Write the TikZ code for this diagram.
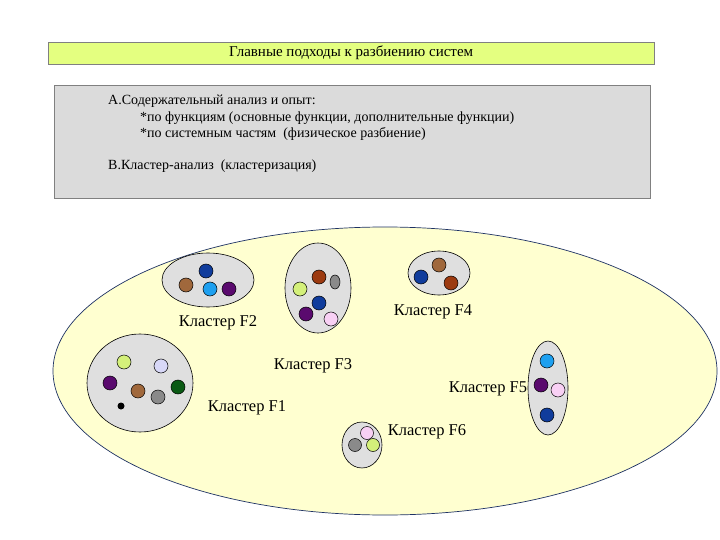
\documentclass[tikz,border=0pt]{standalone}
\usepackage{fontspec}
\setmainfont{Liberation Serif}
\begin{document}
\begin{tikzpicture}[x=1pt,y=-1pt,
  cl/.style={draw=black,fill=gray!25,line width=0.6pt},
  dt/.style={draw=black,line width=0.5pt},
  lbl/.style={font=\fontsize{14}{16}\selectfont,inner sep=0pt},
  clab/.style={font=\fontsize{16.5}{18}\selectfont,inner sep=0pt}]
\definecolor{dbl}{HTML}{103C9C}\definecolor{brn}{HTML}{A0683C}\definecolor{lbl}{HTML}{1EA0F0}
\definecolor{pur}{HTML}{5A0A6E}\definecolor{rbr}{HTML}{9C3A10}\definecolor{gry}{HTML}{8A8A8A}
\definecolor{ygr}{HTML}{D4F07A}\definecolor{pnk}{HTML}{F8D0F4}\definecolor{lav}{HTML}{D8D8F8}
\definecolor{dgr}{HTML}{0A5A14}
\useasboundingbox (0,0) rectangle (720,540);
\fill[white] (0,0) rectangle (720,540);
\node[draw=gray,fill={rgb,255:red,228;green,255;blue,128},minimum width=606pt,minimum height=22pt,anchor=north west,font=\fontsize{15}{17}\selectfont,inner sep=0pt] (title) at (48,42) {Главные подходы к разбиению систем};
\node[draw=gray,fill=gray!28,minimum width=596pt,minimum height=113pt,anchor=north west] (tb) at (54,85) {};
\node[lbl,anchor=west] (t1) at (108,101) {А.Содержательный анализ и опыт:};
\node[lbl,anchor=west] (t2) at (140,118) {*по функциям (основные функции, дополнительные функции)};
\node[lbl,anchor=west] (t3) at (140,134) {*по системным частям\ \ (физическое разбиение)};
\node[lbl,anchor=west] (t4) at (108,166) {В.Кластер-анализ\ \ (кластеризация)};
\draw[fill={rgb,255:red,255;green,255;blue,208},draw={rgb,255:red,30;green,50;blue,100},line width=0.7pt] (385,371) ellipse [x radius=332,y radius=144];
% F2
\draw[cl] (208,280) ellipse [x radius=46,y radius=27];
\draw[dt,fill=dbl] (206,271) circle (7);\draw[dt,fill=brn] (186,285) circle (7);
\draw[dt,fill=lbl] (210,289) circle (7);\draw[dt,fill=pur] (229,289) circle (7);
% F3
\draw[cl] (318,288) ellipse [x radius=33,y radius=45];
\draw[dt,fill=rbr] (319,277) circle (7);\draw[dt,fill=gry] (335,282) ellipse [x radius=5,y radius=7];
\draw[dt,fill=ygr] (300,289) circle (7);\draw[dt,fill=dbl] (319,303) circle (7);
\draw[dt,fill=pur] (306,314) circle (7);\draw[dt,fill=pnk] (331,319) circle (7);
% F1
\draw[cl] (140,383) ellipse [x radius=53,y radius=49];
\draw[dt,fill=ygr] (124,362) circle (7);\draw[dt,fill=lav] (161,366) circle (7);
\draw[dt,fill=pur] (110,383) circle (7);\draw[dt,fill=brn] (138,391) circle (7);
\draw[dt,fill=dgr] (178,387) circle (7);\draw[dt,fill=gry] (158,397) circle (7);
\fill[black] (121,406) circle (3.5);
% F6
\draw[cl] (362,445) ellipse [x radius=20,y radius=23];
\draw[dt,fill=pnk] (367,433) circle (6.5);\draw[dt,fill=gry] (355,445) circle (6.5);
\draw[dt,fill=ygr] (373,445) circle (6.5);
% F4
\draw[cl] (439,273) ellipse [x radius=31,y radius=22];
\draw[dt,fill=brn] (439,265) circle (7);\draw[dt,fill=dbl] (421,277) circle (7);
\draw[dt,fill=rbr] (451,283) circle (7);
% F5
\draw[cl] (548,388) ellipse [x radius=20,y radius=47];
\draw[dt,fill=lbl] (547,361) circle (7);\draw[dt,fill=pur] (541,385) circle (7);
\draw[dt,fill=pnk] (558,390) circle (7);\draw[dt,fill=dbl] (547,415) circle (7);
\node[clab] (lF2) at (218,323) {Кластер F2};
\node[clab] (lF3) at (313,366) {Кластер F3};
\node[clab] (lF4) at (433,312) {Кластер F4};
\node[clab] (lF5) at (488,389) {Кластер F5};
\node[clab] (lF1) at (247,408) {Кластер F1};
\node[clab] (lF6) at (427,432) {Кластер F6};
\end{tikzpicture}
\end{document}
